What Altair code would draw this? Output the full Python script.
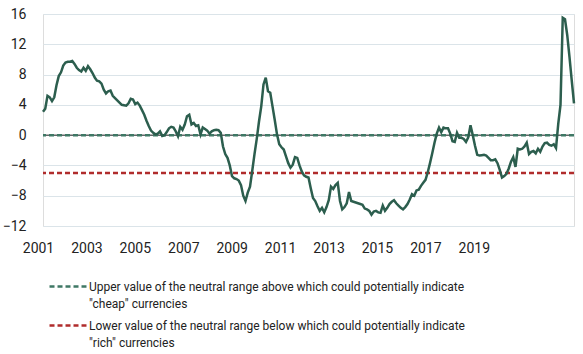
import altair as alt
import pandas as pd

# Monthly index values (Jan 2001 .. Sep 2020)
values = [
    3.1, 3.5, 5.2, 5.0, 4.5, 5.0, 6.6, 7.8, 8.3, 9.2, 9.6, 9.7,
    9.7, 9.8, 9.4, 8.9, 8.6, 8.4, 8.9, 8.5, 9.1, 8.7, 8.2, 7.6,
    7.2, 7.1, 6.8, 6.0, 5.5, 5.8, 5.9, 5.2, 4.9, 4.6, 4.3, 4.0,
    3.95, 3.9, 4.2, 4.8, 4.7, 4.1, 4.3, 3.9, 3.3, 2.7, 1.9, 1.2,
    0.6, 0.3, 0.1, 0.2, 0.5, -0.1, 0.0, 0.4, 0.9, 1.1, 1.0, 0.5,
    -0.15, 1.1, 0.7, 1.4, 2.5, 2.7, 1.4, 1.6, 1.2, 1.3, 0.1, 1.0,
    0.8, 0.6, 0.2, 0.5, 0.65, 0.7, 0.65, 0.3, -1.5, -2.5, -3.0, -4.0,
    -5.4, -5.7, -5.8, -6.0, -6.6, -8.0, -8.7, -7.6, -6.8, -4.7, -2.5, -0.5,
    1.8, 3.8, 6.7, 7.6, 5.8, 5.6, 3.8, 2.0, 0.1, -1.2, -1.6, -1.9,
    -2.8, -3.7, -4.3, -3.9, -2.9, -3.0, -4.0, -4.8, -5.3, -5.5, -5.6, -7.0,
    -8.3, -8.7, -9.4, -10.0, -9.6, -10.2, -9.5, -8.6, -6.8, -7.1, -6.6, -6.3,
    -8.7, -9.8, -9.5, -9.0, -7.5, -8.7, -8.8, -8.9, -9.0, -9.1, -9.2, -9.7,
    -9.8, -10.0, -10.5, -10.1, -10.0, -10.2, -10.25, -9.3, -10.0, -9.6, -9.1, -8.8,
    -8.6, -9.0, -9.3, -9.6, -9.8, -9.5, -9.1, -8.5, -7.8, -8.0, -7.3, -7.2,
    -6.7, -6.3, -5.9, -4.9, -3.7, -2.4, -1.0, 0.2, 1.0, 0.4, 1.0, 0.9,
    0.9, 0.2, -0.8, -0.9, 0.3, -0.35, -0.35, -0.5, -0.9, -0.3, 1.3, 0.0,
    -1.4, -2.6, -2.7, -2.65, -2.6, -2.7, -3.0, -3.3, -3.3, -3.2, -3.7, -4.6,
    -5.6, -5.4, -5.1, -4.4, -3.5, -2.9, -4.2, -1.8, -1.9, -1.8, -1.5, -1.0,
    -2.5, -2.2, -2.1, -2.4, -1.8, -2.2, -1.5, -1.05, -1.0, -1.3, -1.4, -1.2,
    -1.7, 1.5, 4.0, 15.5, 15.3, 13.2, 10.3, 7.2, 4.2,
]

year_labels = ["2001", "2003", "2005", "2007", "2009",
               "2011", "2013", "2015", "2017", "2019"]
label_step = 21.52          # spacing of the category labels, in months
y_ticks = [-12, -8, -4, 0, 4, 8, 12, 16]

legend_labels = [
    'Upper value of the neutral range above which could potentially indicate|"cheap" currencies',
    'Lower value of the neutral range below which could potentially indicate|"rich" currencies',
]
threshold_values = [0, -5]

FONT = "Roboto"

n = len(values)
df = pd.DataFrame({"t": list(range(n)), "v": values})
thr = pd.DataFrame({"label": legend_labels, "v": threshold_values})
zero_df = pd.DataFrame({"v": [0]})

tick_vals = [round(k * label_step, 3) for k in range(len(year_labels))]
label_array = "[" + ",".join('"%s"' % s for s in year_labels) + "]"

x_enc = alt.X(
    "t:Q",
    scale=alt.Scale(domain=[0, n - 1], nice=False, zero=False),
    axis=alt.Axis(
        values=tick_vals,
        labelExpr=f"{label_array}[round(datum.value / {label_step})]",
        grid=False, domain=False, ticks=False, title=None,
        labelFontSize=14, labelPadding=20, translate=-4.5,
        labelFlush=False, labelOverlap=False,
        labelColor="#222222", labelFont=FONT,
    ),
)
y_axis = alt.Axis(
    values=y_ticks, grid=True, gridColor="#dbe4e9", gridWidth=1,
    domain=False, ticks=False, title=None,
    labelFlush=False, labelOverlap=False,
    labelFontSize=14, labelPadding=17, labelColor="#222222", labelFont=FONT,
)
y_scale = alt.Scale(domain=[-12, 16], nice=False, zero=False)
y_enc = alt.Y("v:Q", scale=y_scale, axis=y_axis)

zero_line = alt.Chart(zero_df).mark_rule(color="#222222", strokeWidth=1).encode(
    y=y_enc
)

rules = alt.Chart(thr).mark_rule(strokeDash=[5, 3], strokeWidth=2.5).encode(
    y=y_enc,
    color=alt.Color(
        "label:N",
        scale=alt.Scale(domain=legend_labels, range=["#3f7865", "#b02c2c"]),
        legend=alt.Legend(
            title=None, orient="none", legendX=5, legendY=262,
            direction="vertical",
            labelExpr="split(datum.label, '|')",
            labelFont=FONT, labelFontSize=12, labelColor="#222222",
            labelLimit=600, labelOffset=10.5, labelBaseline="middle",
            symbolType="M-2,0H2", symbolSize=342, symbolStrokeWidth=2.5,
            symbolOffset=9.5, symbolDash=[5, 3], rowPadding=5,
        ),
    ),
)

line = alt.Chart(df).mark_line(color="#2c5e4e", strokeWidth=2.5).encode(
    x=x_enc, y=y_enc
)

chart = alt.layer(zero_line, rules, line).properties(
    width=531, height=212,
    autosize=alt.AutoSizeParams(type="none"),
    padding={"left": 43, "top": 14, "right": 9, "bottom": 128},
).configure_view(stroke=None).configure(
    background="white",
    style={"guide-label": {"lineHeight": 17.5}},
)

chart.save("out.html", embed_options={"renderer": "svg", "actions": False})
